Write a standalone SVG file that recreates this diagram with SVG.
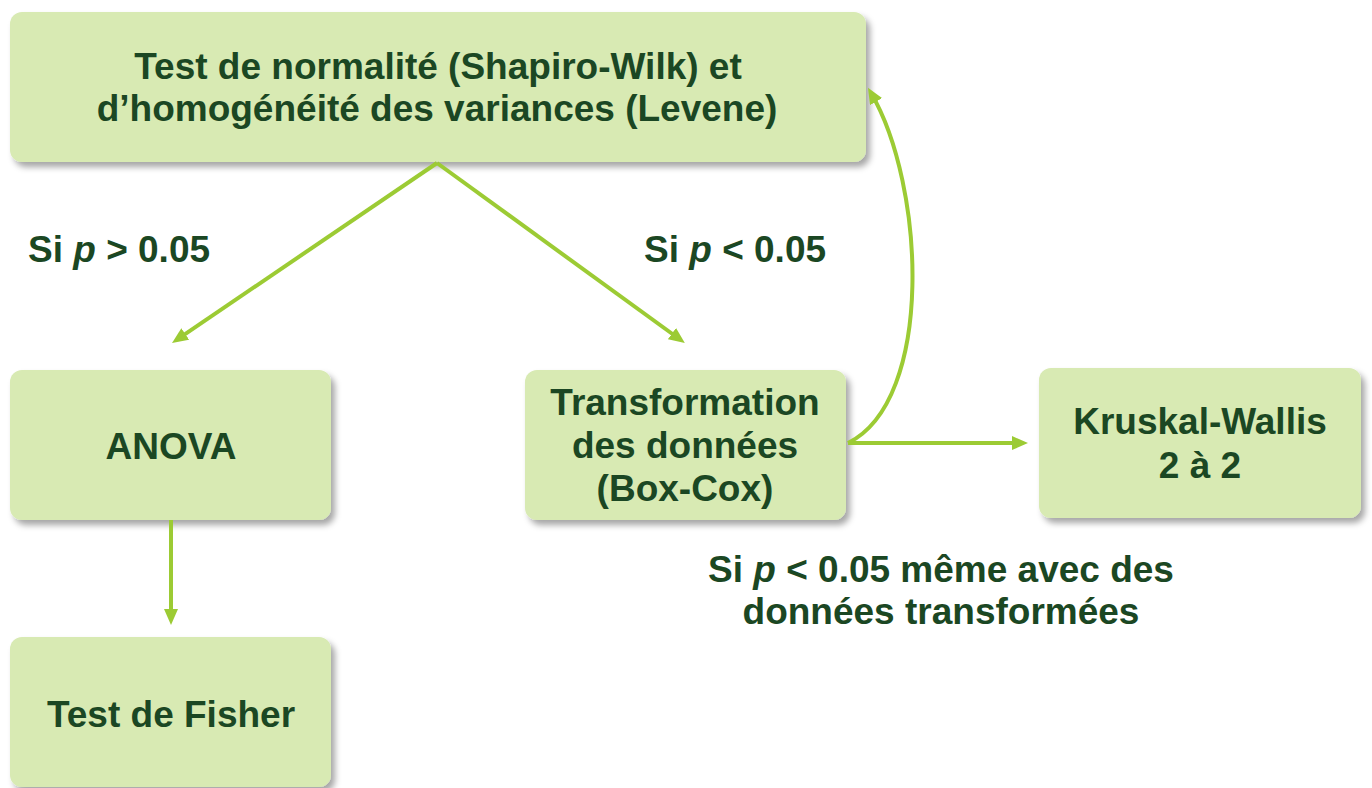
<svg xmlns="http://www.w3.org/2000/svg" width="1372" height="788" viewBox="0 0 1372 788">
<defs>
<filter id="sh" x="-10%" y="-10%" width="125%" height="130%">
<feDropShadow dx="4" dy="5" stdDeviation="3" flood-color="#000" flood-opacity="0.35"/>
</filter>
<marker id="ah" markerUnits="userSpaceOnUse" markerWidth="16" markerHeight="14" refX="10" refY="7" orient="auto">
<path d="M0,0 L16,7 L0,14 z" fill="#9ccb34"/>
</marker>
<style>
.box{fill:#d8eab3;filter:url(#sh)}
.t{font-family:"Liberation Sans",Arial,sans-serif;font-weight:bold;font-size:37px;fill:#1b4723;text-anchor:middle}
.l{font-family:"Liberation Sans",Arial,sans-serif;font-weight:bold;font-size:37px;fill:#1b4723}
.c{fill:none;stroke:#9ccb34;stroke-width:4;marker-end:url(#ah)}
</style>
</defs>
<rect width="1372" height="788" fill="#fff"/>
<g id="n-test">
<rect class="box" x="10" y="12" width="856" height="150" rx="12"/>
<text class="t" x="438" y="79">Test de normalité (Shapiro-Wilk) et</text>
<text class="t" x="437" y="121">d’homogénéité des variances (Levene)</text>
</g>
<g id="n-anova">
<rect class="box" x="10" y="370" width="321" height="150" rx="12"/>
<text class="t" x="171" y="459">ANOVA</text>
</g>
<g id="n-fisher">
<rect class="box" x="10" y="637" width="321" height="150" rx="12"/>
<text class="t" x="171" y="727">Test de Fisher</text>
</g>
<g id="n-transfo">
<rect class="box" x="525" y="370" width="321" height="150" rx="12"/>
<text class="t" x="685" y="415">Transformation</text>
<text class="t" x="685" y="458">des données</text>
<text class="t" x="685" y="501">(Box-Cox)</text>
</g>
<g id="n-kruskal">
<rect class="box" x="1039" y="368" width="322" height="150" rx="12"/>
<text class="t" x="1200" y="434">Kruskal-Wallis</text>
<text class="t" x="1200" y="478">2 à 2</text>
</g>
<g id="connectors">
<path class="c" d="M437,163 L177,339.6"/>
<path class="c" d="M437,163 L680,339.5"/>
<path class="c" d="M171,520 L171,619"/>
<path class="c" d="M848,443 L1022,443"/>
<path class="c" d="M848,443 C935,400 925,185 871,93"/>
</g>
<g id="labels">
<text class="l" x="28" y="262">Si <tspan font-style="italic">p</tspan> &gt; 0.05</text>
<text class="l" x="644" y="262">Si <tspan font-style="italic">p</tspan> &lt; 0.05</text>
<text class="t" x="941" y="582">Si <tspan font-style="italic">p</tspan> &lt; 0.05 même avec des</text>
<text class="t" x="941" y="624">données transformées</text>
</g>
</svg>
